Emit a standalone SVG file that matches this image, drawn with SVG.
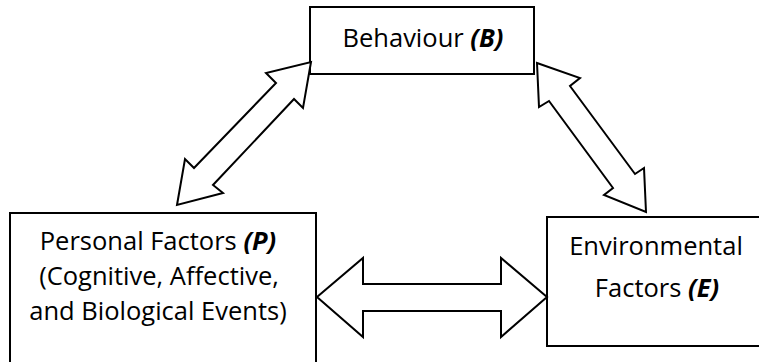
<svg xmlns="http://www.w3.org/2000/svg" width="759" height="362" viewBox="0 0 759 362">
<style>
.box{fill:#fff;stroke:#000;stroke-width:2}
.arr{fill:#fff;stroke:#000;stroke-width:2;stroke-linejoin:miter}
text{font-family:"Open Sans","Noto Sans",sans-serif;font-size:25.5px;fill:#000;text-anchor:middle}
.b{font-weight:bold;font-style:italic}
</style>
<rect width="759" height="362" fill="#fff"/>
<g id="node-behaviour">
<rect class="box" x="310" y="7" width="224" height="67"/>
<text x="423" y="47">Behaviour <tspan class="b">(B)</tspan></text>
</g>
<g id="node-personal">
<rect class="box" x="10" y="213" width="306" height="160"/>
<text x="158" y="250">Personal Factors <tspan class="b">(P)</tspan></text>
<text x="159" y="285">(Cognitive, Affective,</text>
<text x="158" y="320">and Biological Events)</text>
</g>
<g id="node-environmental">
<rect class="box" x="547" y="217" width="222" height="129"/>
<text x="656" y="255">Environmental</text>
<text x="657" y="297">Factors <tspan class="b">(E)</tspan></text>
</g>
<g id="connectors">
<polygon class="arr" points="311,62 303,108 294,99 213,185 223,193 177,205 185,159 194,168 276,83 266,73"/>
<polygon class="arr" points="537,63 580,78 570,86 635,174 644,168 646,212 604,195 613,188 549,101 539,107"/>
<polygon class="arr" points="317,297 363,258 363,284 501,284 501,258 547,297 501,337 501,311 363,311 363,337"/>
</g>
</svg>
